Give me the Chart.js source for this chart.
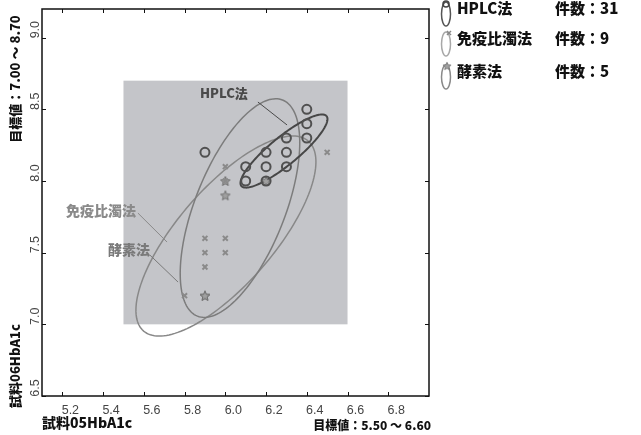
<!DOCTYPE html>
<html>
<head>
<meta charset="utf-8">
<script src="https://cdn.jsdelivr.net/npm/chart.js@4.4.1/dist/chart.umd.min.js"></script>
<style>
  html, body { margin: 0; padding: 0; background: #fff; }
  #wrap { width: 641px; height: 435px; }
</style>
</head>
<body>
<div id="wrap"><canvas id="chart" width="641" height="435"></canvas></div>
<script>
// axis ranges and ticks
const xRange = [5.1, 7.0];
const yRange = [6.5, 9.2];
const xTicks = [5.2, 5.4, 5.6, 5.8, 6.0, 6.2, 6.4, 6.6, 6.8];
const yTicks = [6.5, 7.0, 7.5, 8.0, 8.5, 9.0];

// target box (目標値)
const targetX = [5.50, 6.60];
const targetY = [7.00, 8.70];

// HPLC法
const hplcX = [6.4, 6.4, 6.4, 6.3, 6.2, 6.3, 6.1, 6.2, 6.3, 6.1, 6.2, 5.9];
const hplcY = [8.5, 8.4, 8.3, 8.3, 8.2, 8.2, 8.1, 8.1, 8.1, 8.0, 8.0, 8.2];
// 免疫比濁法
const immunoX = [6.0, 5.9, 6.0, 5.9, 6.0, 5.9, 5.8, 6.5, 6.0];
const immunoY = [8.1, 7.6, 7.6, 7.5, 7.5, 7.4, 7.2, 8.2, 8.0];
// 酵素法
const enzymeX = [6.0, 6.0, 5.9, 6.2, 5.9];
const enzymeY = [8.0, 7.9, 7.2, 8.0, 7.2];

// ellipses: centre x, centre y, axis1 (dx, dy), axis2 (dx, dy)
const hplcEllipse = [6.288, 8.209, 0.209, 0.244, 0.044, -0.075];
const immunoEllipse = [6.003, 7.616, 0.404, 0.663, 0.179, -0.218];
const enzymeEllipse = [6.072, 7.811, 0.209, 0.754, 0.206, -0.115];

const counts = [31, 9, 5];

const toPoints = (xs, ys) => xs.map((v, i) => ({ x: v, y: ys[i] }));

// five-pointed star marker
function makeStar(size, fill, stroke) {
  const c = document.createElement('canvas');
  c.width = size; c.height = size;
  const g = c.getContext('2d');
  const cx = size / 2, cy = size / 2 + 0.5, ro = size / 2 - 1, ri = ro * 0.45;
  g.beginPath();
  for (let i = 0; i < 10; i++) {
    const r = i % 2 === 0 ? ro : ri;
    const a = -Math.PI / 2 + i * Math.PI / 5;
    g.lineTo(cx + r * Math.cos(a), cy + r * Math.sin(a));
  }
  g.closePath();
  g.fillStyle = fill; g.fill();
  g.strokeStyle = stroke; g.lineWidth = 1; g.stroke();
  return c;
}
const starImg = makeStar(12, '#a0a0a0', '#707070');

function drawEllipse(chart, e, color, width) {
  const { ctx, scales: { x, y } } = chart;
  ctx.beginPath();
  for (let i = 0; i <= 160; i++) {
    const t = i / 160 * Math.PI * 2;
    const vx = e[0] + e[2] * Math.cos(t) + e[4] * Math.sin(t);
    const vy = e[1] + e[3] * Math.cos(t) + e[5] * Math.sin(t);
    const px = x.getPixelForValue(vx), py = y.getPixelForValue(vy);
    if (i === 0) ctx.moveTo(px, py); else ctx.lineTo(px, py);
  }
  ctx.strokeStyle = color;
  ctx.lineWidth = width;
  ctx.stroke();
}

function rotText(ctx, text, px, py) {
  ctx.save();
  ctx.translate(px, py);
  ctx.rotate(-Math.PI / 2);
  ctx.fillText(text, 0, 0);
  ctx.restore();
}

const jpBold = '"Noto Sans CJK JP", "Noto Sans", sans-serif';

const decor = {
  id: 'decor',
  beforeDatasetsDraw(chart) {
    const { ctx, scales: { x, y } } = chart;
    ctx.save();
    const l = x.getPixelForValue(targetX[0]), r = x.getPixelForValue(targetX[1]);
    const t = y.getPixelForValue(targetY[1]), b = y.getPixelForValue(targetY[0]);
    ctx.fillStyle = '#c4c5c9';
    ctx.fillRect(l, t, r - l, b - t);

    drawEllipse(chart, immunoEllipse, '#888', 1.5);
    drawEllipse(chart, enzymeEllipse, '#7c7c7c', 1.5);
    drawEllipse(chart, hplcEllipse, '#474747', 2);

    // callout labels
    const callouts = [
      ['HPLC法', 5.993, 8.614, 6.160, 8.551, 6.303, 8.391, '#4a4a4a', 13],
      ['免疫比濁法', 5.390, 7.790, 5.571, 7.776, 5.714, 7.574, '#8a8a8a', 14],
      ['酵素法', 5.527, 7.518, 5.630, 7.483, 5.768, 7.295, '#7a7a7a', 14]
    ];
    ctx.textAlign = 'center';
    ctx.textBaseline = 'middle';
    callouts.forEach(c => {
      ctx.font = '900 ' + c[8] + 'px ' + jpBold;
      ctx.fillStyle = c[7];
      ctx.fillText(c[0], x.getPixelForValue(c[1]), y.getPixelForValue(c[2]));
      ctx.beginPath();
      ctx.moveTo(x.getPixelForValue(c[3]), y.getPixelForValue(c[4]));
      ctx.lineTo(x.getPixelForValue(c[5]), y.getPixelForValue(c[6]));
      ctx.strokeStyle = c[7];
      ctx.lineWidth = 1;
      ctx.stroke();
    });
    ctx.restore();
  },
  afterDraw(chart) {
    const { ctx, chartArea: a, scales: { x, y } } = chart;
    ctx.save();
    // frame
    ctx.strokeStyle = '#111';
    ctx.lineWidth = 1.5;
    ctx.strokeRect(a.left, a.top, a.right - a.left, a.bottom - a.top);
    ctx.lineWidth = 1;
    ctx.beginPath();
    xTicks.forEach(v => {
      const px = Math.round(x.getPixelForValue(v)) + 0.5;
      ctx.moveTo(px, a.bottom); ctx.lineTo(px, a.bottom - 4);
      ctx.moveTo(px, a.top); ctx.lineTo(px, a.top + 4);
    });
    yTicks.forEach(v => {
      const py = Math.round(y.getPixelForValue(v)) + 0.5;
      ctx.moveTo(a.left, py); ctx.lineTo(a.left + 4, py);
      ctx.moveTo(a.right, py); ctx.lineTo(a.right - 4, py);
    });
    ctx.stroke();

    // tick labels
    ctx.fillStyle = '#444';
    ctx.font = '12.5px "Liberation Sans", Arial, sans-serif';
    ctx.textAlign = 'center';
    ctx.textBaseline = 'middle';
    xTicks.forEach(v => ctx.fillText(v.toFixed(1), x.getPixelForValue(v) + 8, a.bottom + 15));
    yTicks.forEach(v => rotText(ctx, v.toFixed(1), a.left - 6, y.getPixelForValue(v) - 8));

    // axis titles
    ctx.fillStyle = '#111';
    ctx.font = '900 14px ' + jpBold;
    ctx.textAlign = 'left';
    ctx.fillText('試料05HbA1c', 42, 423);
    ctx.textAlign = 'right';
    ctx.font = '900 12px ' + jpBold;
    ctx.fillText('目標値：5.50 ～ 6.60', 431, 425);
    ctx.textAlign = 'center';
    ctx.font = '900 13px ' + jpBold;
    rotText(ctx, '試料06HbA1c', 15, 366);
    rotText(ctx, '目標値：7.00 ～ 8.70', 15, 79);

    // legend
    const rows = [
      ['HPLC法', '#555', 'circle', 13],
      ['免疫比濁法', '#a8a8a8', 'cross', 43],
      ['酵素法', '#8a8a8a', 'star', 76]
    ];
    rows.forEach((r, i) => {
      const cy = r[3];
      ctx.beginPath();
      ctx.ellipse(446, cy + 1, 4.5, 12, 0, 0, Math.PI * 2);
      ctx.strokeStyle = r[1];
      ctx.lineWidth = 1.5;
      ctx.stroke();
      if (r[2] === 'circle') {
        ctx.beginPath();
        ctx.arc(446, cy - 9, 3, 0, Math.PI * 2);
        ctx.strokeStyle = '#444';
        ctx.stroke();
      } else if (r[2] === 'cross') {
        ctx.beginPath();
        ctx.moveTo(447, cy - 12); ctx.lineTo(451, cy - 8);
        ctx.moveTo(451, cy - 12); ctx.lineTo(447, cy - 8);
        ctx.strokeStyle = '#888';
        ctx.stroke();
      } else {
        ctx.drawImage(starImg, 442, cy - 15, 10, 10);
      }
      ctx.fillStyle = '#111';
      ctx.font = '900 15px ' + jpBold;
      ctx.textAlign = 'left';
      ctx.fillText(r[0], 457, cy - 5);
      ctx.fillText('件数：' + counts[i], 555, cy - 5);
    });
    ctx.restore();
  }
};

new Chart(document.getElementById('chart').getContext('2d'), {
  type: 'scatter',
  data: {
    datasets: [
      {
        label: '免疫比濁法',
        data: toPoints(immunoX, immunoY),
        pointStyle: 'crossRot',
        pointRadius: 3.5,
        borderColor: '#8a8a8a',
        borderWidth: 2
      },
      {
        label: 'HPLC法',
        data: toPoints(hplcX, hplcY),
        pointStyle: 'circle',
        pointRadius: 4.5,
        backgroundColor: 'rgba(0,0,0,0)',
        borderColor: '#505050',
        borderWidth: 2
      },
      {
        label: '酵素法',
        data: toPoints(enzymeX, enzymeY),
        pointStyle: starImg,
        pointRadius: 6
      }
    ]
  },
  options: {
    responsive: false,
    animation: false,
    devicePixelRatio: 1,
    layout: { padding: { left: 42, right: 212, top: 9, bottom: 39 } },
    scales: {
      x: { type: 'linear', min: xRange[0], max: xRange[1], display: false },
      y: { type: 'linear', min: yRange[0], max: yRange[1], display: false }
    },
    plugins: {
      legend: { display: false },
      tooltip: { enabled: false }
    }
  },
  plugins: [decor]
});
</script>
</body>
</html>
